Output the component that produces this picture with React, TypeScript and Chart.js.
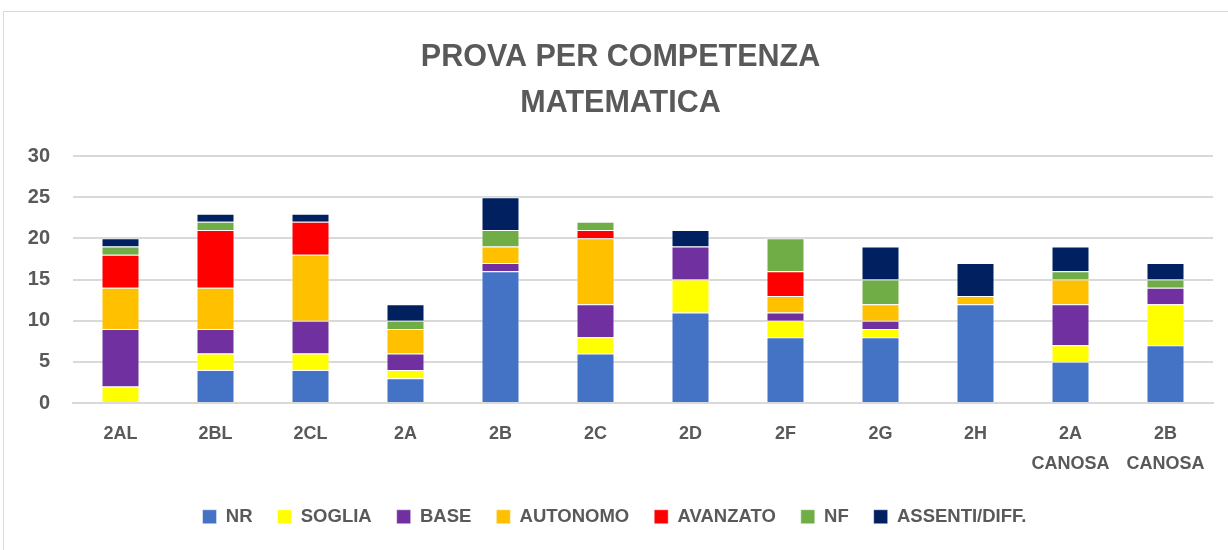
import React, { useEffect, useRef } from "react";
import { Chart, registerables } from "chart.js";

Chart.register(...registerables);

const categories: (string | string[])[] = [
  "2AL", "2BL", "2CL", "2A", "2B", "2C", "2D", "2F", "2G", "2H",
  ["2A", "CANOSA"], ["2B", "CANOSA"],
];

const nr = [0, 4, 4, 3, 16, 6, 11, 8, 8, 12, 5, 7];
const soglia = [2, 2, 2, 1, 0, 2, 4, 2, 1, 0, 2, 5];
const base = [7, 3, 4, 2, 1, 4, 4, 1, 1, 0, 5, 2];
const autonomo = [5, 5, 8, 3, 2, 8, 0, 2, 2, 1, 3, 0];
const avanzato = [4, 7, 4, 0, 0, 1, 0, 3, 0, 0, 0, 0];
const nf = [1, 1, 0, 1, 2, 1, 0, 4, 3, 0, 1, 1];
const assenti = [1, 1, 1, 2, 4, 0, 2, 0, 4, 4, 3, 2];

const titleLines = ["PROVA PER COMPETENZA", "MATEMATICA"];
const yTicks = [0, 5, 10, 15, 20, 25, 30];

const series = [
  { label: "NR", data: nr, color: "#4472C4" },
  { label: "SOGLIA", data: soglia, color: "#FFFF00" },
  { label: "BASE", data: base, color: "#7030A0" },
  { label: "AUTONOMO", data: autonomo, color: "#FFC000" },
  { label: "AVANZATO", data: avanzato, color: "#FF0000" },
  { label: "NF", data: nf, color: "#70AD47" },
  { label: "ASSENTI/DIFF.", data: assenti, color: "#002060" },
];

const FONT = "'Liberation Sans', Arial, sans-serif";
const GREY = "#595959";

const legendShift = {
  id: "legendShift",
  afterLayout(chart: any) {
    if (chart.legend) {
      chart.legend.left -= 6;
      chart.legend.right -= 6;
    }
  },
};

export default function App() {
  const ref = useRef<HTMLCanvasElement | null>(null);

  useEffect(() => {
    document.body.style.margin = "0";
    if (!ref.current) return;
    const chart = new Chart(ref.current, {
      type: "bar",
      plugins: [legendShift],
      data: {
        labels: categories,
        datasets: series.map((s) => ({
          label: s.label,
          data: s.data,
          backgroundColor: s.color,
          borderColor: "rgba(255,255,255,0.45)",
          borderWidth: 1,
          barPercentage: 0.4,
          categoryPercentage: 1,
        })),
      },
      options: {
        animation: false,
        responsive: false,
        maintainAspectRatio: false,
        layout: { padding: { top: 22, left: 28, right: 15, bottom: 14 } },
        plugins: {
          title: {
            display: true,
            text: titleLines,
            color: GREY,
            font: { family: FONT, size: 30.5, weight: "bold", lineHeight: 1.5 },
            padding: { top: 13, bottom: 29.5 },
          },
          legend: {
            position: "bottom",
            labels: {
              color: GREY,
              font: { family: FONT, size: 18.5, weight: "bold" },
              boxWidth: 14,
              boxHeight: 14,
              padding: 25,
            },
          },
          tooltip: { enabled: false },
        },
        scales: {
          x: {
            stacked: true,
            grid: { display: false, drawTicks: false },
            border: { color: "#D9D9D9", width: 2 },
            afterFit: (axis: any) => {
              axis.height = 79.5;
            },
            ticks: {
              color: GREY,
              font: { family: FONT, size: 18, weight: "bold", lineHeight: 1.667 },
              padding: 16.5,
              maxRotation: 0,
              autoSkip: false,
            },
          },
          y: {
            stacked: true,
            min: 0,
            max: 30,
            afterBuildTicks: (axis: any) => {
              axis.ticks = yTicks.map((v) => ({ value: v }));
            },
            afterFit: (axis: any) => {
              axis.width = 45;
            },
            grid: { color: "#D9D9D9", lineWidth: 2, drawTicks: false },
            border: { display: false },
            ticks: {
              color: GREY,
              font: { family: FONT, size: 20, weight: "bold" },
              padding: 23,
            },
          },
        },
      },
    });
    return () => chart.destroy();
  }, []);

  return (
    <div style={{ position: "relative", width: 1228, height: 550 }}>
      <div
        style={{
          position: "absolute",
          left: 3,
          top: 11,
          width: 1240,
          height: 560,
          border: "1px solid #D9D9D9",
          boxSizing: "border-box",
        }}
      />
      <canvas
        ref={ref}
        width={1228}
        height={550}
        style={{ position: "absolute", left: 0, top: 0, width: 1228, height: 550 }}
      />
    </div>
  );
}
